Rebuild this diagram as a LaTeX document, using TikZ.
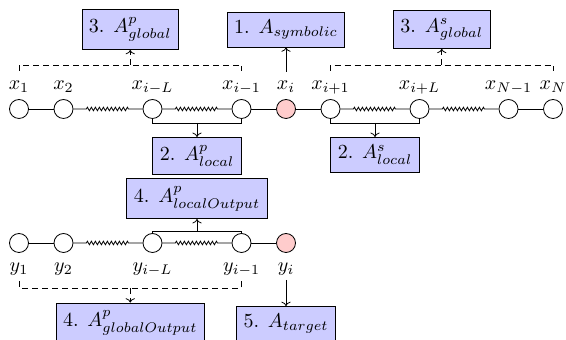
\documentclass[tikz,border=0pt]{standalone}
\usetikzlibrary{decorations.pathmorphing,arrows.meta}
\begin{document}
\begin{tikzpicture}[x=0.5pt,y=-0.5pt,
  dot/.style={circle,draw,fill=white,minimum size=9.5pt,inner sep=0pt},
  tgt/.style={dot,fill=red!20},
  box/.style={draw,fill=blue!20,inner xsep=3.5pt,inner ysep=3.9pt},
  lab/.style={anchor=base,inner sep=0pt},
  dsh/.style={dash pattern=on 3pt off 2pt},
  zz/.style={decorate,decoration={zigzag,segment length=2pt,amplitude=0.9pt,pre length=6.5pt,post length=6.5pt}},
  >={To[length=2.2pt,width=4.6pt]}]
\useasboundingbox (0,0) rectangle (566,340);
% top row
\node[dot] (x1) at (19,109) {};
\node[dot] (x2) at (63.5,109) {};
\node[dot] (xiL) at (152.5,109) {};
\node[dot] (xi1) at (241.5,109) {};
\node[tgt] (xi) at (286,109) {};
\node[dot] (xp1) at (330.5,109) {};
\node[dot] (xpL) at (419.5,109) {};
\node[dot] (xN1) at (508.5,109) {};
\node[dot] (xN) at (553,109) {};
\node[lab] (lx1) at (19,90) {$x_1$};
\node[lab] (lx2) at (63.5,90) {$x_2$};
\node[lab] (lxiL) at (152.5,90) {$x_{i-L}$};
\node[lab] (lxi1) at (241.5,90) {$x_{i-1}$};
\node[lab] (lxi) at (286,90) {$x_i$};
\node[lab] (lxp1) at (330.5,90) {$x_{i+1}$};
\node[lab] (lxpL) at (419.5,90) {$x_{i+L}$};
\node[lab] (lxN1) at (508.5,90) {$x_{N-1}$};
\node[lab] (lxN) at (553,90) {$x_N$};
\draw (x1) -- (x2);
\draw[zz] (x2) -- (xiL);
\draw[zz] (xiL) -- (xi1);
\draw (xi1) -- (xi);
\draw (xi) -- (xp1);
\draw[zz] (xp1) -- (xpL);
\draw[zz] (xpL) -- (xN1);
\draw (xN1) -- (xN);
% bottom row
\node[dot] (y1) at (19,243) {};
\node[dot] (y2) at (63.5,243) {};
\node[dot] (yiL) at (152.5,243) {};
\node[dot] (yi1) at (241.5,243) {};
\node[tgt] (yi) at (286,243) {};
\node[lab] (ly1) at (19,272) {$y_1$};
\node[lab] (ly2) at (63.5,272) {$y_2$};
\node[lab] (lyiL) at (152.5,272) {$y_{i-L}$};
\node[lab] (lyi1) at (241.5,272) {$y_{i-1}$};
\node[lab] (lyi) at (286,272) {$y_i$};
\draw (y1) -- (y2);
\draw[zz] (y2) -- (yiL);
\draw[zz] (yiL) -- (yi1);
\draw (yi1) -- (yi);
% boxes
\node[box] (b3p) at (130.25,29.5) {3. $A^p_{global}$};
\node[box] (b1) at (286,29.5) {1. $A_{symbolic}$};
\node[box] (b3s) at (441.75,29.5) {3. $A^s_{global}$};
\node[box,anchor=north] (b2p) at (197,137) {2. $A^p_{local}$};
\node[box,anchor=north] (b2s) at (375,137) {2. $A^s_{local}$};
\node[box,anchor=south] (b4lo) at (197,219) {4. $A^p_{localOutput}$};
\node[box] (b4go) at (130.25,323) {4. $A^p_{globalOutput}$};
\node[box] (b5) at (286,324) {5. $A_{target}$};
% global brackets (dashed)
\draw[dsh] (x1 |- 0,71) -- (x1 |- 0,65) -| (xi1 |- 0,71);
\path (x1 |- 0,65) -- coordinate[midway] (gp) (xi1 |- 0,65);
\draw[dsh,->] (gp) -- (b3p);
\draw[dsh] (xp1 |- 0,71) -- (xp1 |- 0,65) -| (xN |- 0,71);
\path (xp1 |- 0,65) -- coordinate[midway] (gs) (xN |- 0,65);
\draw[dsh,->] (gs) -- (b3s);
\draw[dsh] (y1 |- 0,281) -- (y1 |- 0,288) -| (yi1 |- 0,281);
\path (y1 |- 0,288) -- coordinate[midway] (go) (yi1 |- 0,288);
\draw[dsh,->] (go) -- (b4go);
% local brackets
\draw (xiL.south) -- (xiL |- 0,123) -- (xi1 |- 0,123) -- (xi1.south);
\path (xiL |- 0,123) -- coordinate[midway] (lp) (xi1 |- 0,123);
\draw[->] (lp) -- (b2p);
\draw (xp1.south) -- (xp1 |- 0,123) -- (xpL |- 0,123) -- (xpL.south);
\path (xp1 |- 0,123) -- coordinate[midway] (ls) (xpL |- 0,123);
\draw[->] (ls) -- (b2s);
\draw (yiL.north) -- (yiL |- 0,231) -- (yi1 |- 0,231) -- (yi1.north);
\path (yiL |- 0,231) -- coordinate[midway] (lo) (yi1 |- 0,231);
\draw[->] (lo) -- (b4lo);
% target arrows
\draw[->] (lxi.north |- 0,72) -- (b1);
\draw[->] (lyi.south |- 0,280) -- (b5);
\end{tikzpicture}
\end{document}
